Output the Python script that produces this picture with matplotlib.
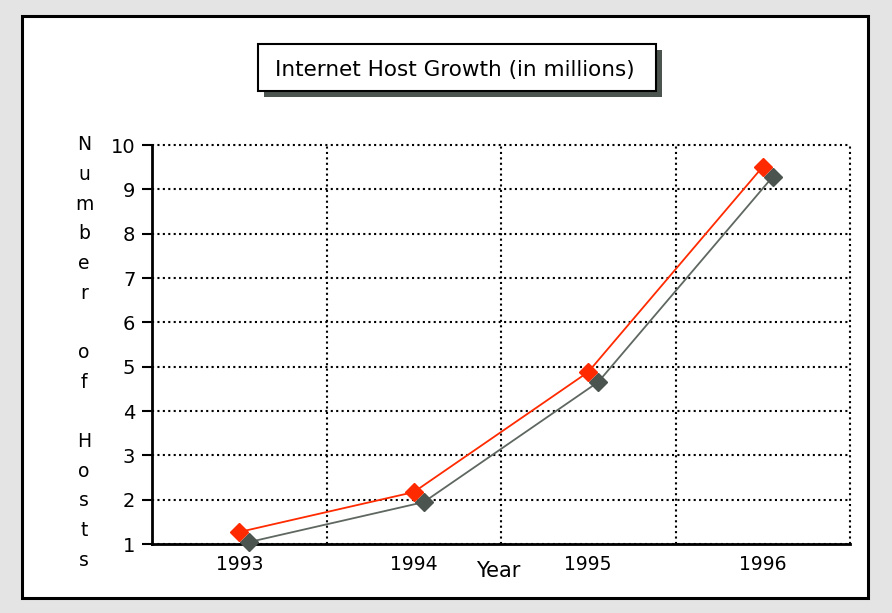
#!/usr/bin/env python

import matplotlib
matplotlib.use('Agg')
import matplotlib.pyplot as plt
import matplotlib.transforms as mtransforms
from matplotlib.patches import Rectangle

# -----------------------------------------------------------------------------
# Data
# -----------------------------------------------------------------------------
years = ['1993', '1994', '1995', '1996']
hosts = [1.27, 2.17, 4.88, 9.51]  # millions
y_ticks = [1, 2, 3, 4, 5, 6, 7, 8, 9, 10]
TITLE = 'Internet Host Growth (in millions)'
Y_LABEL = 'Number of Hosts'
X_LABEL = 'Year'
# -----------------------------------------------------------------------------

W, H, DPI = 892, 613, 100
fig = plt.figure(figsize=(W / DPI, H / DPI), dpi=DPI)
fig.patch.set_facecolor('#e4e4e4')

# White panel with a black frame (behind the axes)
fig.patches.append(Rectangle((22 / W, 1 - 598 / H), 846 / W, 582 / H,
                             transform=fig.transFigure, facecolor='white',
                             edgecolor='black', linewidth=2.2, zorder=-5))

ax = fig.add_axes([152 / W, 1 - 544 / H, 698 / W, 399 / H])
ax.set_zorder(1)
ax.patch.set_alpha(0)
x = list(range(1, len(years) + 1))

# Shadow copy of the series, shifted right/down by a few pixels
shadow = mtransforms.offset_copy(ax.transData, fig=fig, x=10, y=-10, units='dots')
ax.plot(x, hosts, color='#5f6761', lw=1.3, marker='D', ms=9,
        mfc='#4b544f', mec='#4b544f', transform=shadow, zorder=3, clip_on=False)
ax.plot(x, hosts, color='#ff2a00', lw=1.3, marker='D', ms=9,
        mfc='#ff2a00', mec='#ff2a00', zorder=4, clip_on=False)

ax.set_xlim(0.5, len(years) + 0.5)
ax.set_ylim(1, 10)
ax.set_yticks(y_ticks)
ax.set_yticklabels([str(t) for t in y_ticks], fontsize=14)
ax.set_xticks(x)
ax.set_xticklabels(years, fontsize=13.5)
ax.set_xticks([i + 0.5 for i in x], minor=True)
ax.tick_params(axis='x', which='both', length=0, pad=8)
ax.tick_params(axis='y', length=7, width=1.5, pad=5)

dots = (0, (1, 1.6))
ax.grid(True, axis='y', which='major', color='black', linestyle=dots, lw=1.5)
ax.grid(True, axis='x', which='minor', color='black', linestyle=dots, lw=1.5)
ax.grid(False, axis='x', which='major')
for gl in ax.get_ygridlines() + ax.xaxis.get_minorticklines():
    gl.set_clip_on(False)
for t in ax.xaxis.get_minor_ticks() + ax.yaxis.get_major_ticks():
    t.gridline.set_clip_on(False)
for s in ['top', 'right']:
    ax.spines[s].set_visible(False)
for s in ['left', 'bottom']:
    ax.spines[s].set_linewidth(2)

# Year label, placed between 1994 and 1995
fig.text(498 / W, 1 - 571 / H, X_LABEL, fontsize=15, ha='center', va='center')

# Stacked y label
step = (560 - 145) / (len(Y_LABEL) - 1)
for i, ch in enumerate(Y_LABEL):
    fig.text(84 / W, 1 - (145 + i * step) / H, ch, fontsize=13.5,
             ha='center', va='center')

# Title box with drop shadow
fig.patches.append(Rectangle((264 / W, 1 - 97 / H), 398 / W, 47 / H,
                             transform=fig.transFigure, facecolor='#4b544f',
                             edgecolor='none', zorder=1))
fig.patches.append(Rectangle((258 / W, 1 - 91 / H), 398 / W, 47 / H,
                             transform=fig.transFigure, facecolor='white',
                             edgecolor='black', linewidth=1.5, zorder=2))
fig.text(455 / W, 1 - 70 / H, TITLE, fontsize=15.5, ha='center', va='center', zorder=3)

fig.savefig('out.png', dpi=DPI)
